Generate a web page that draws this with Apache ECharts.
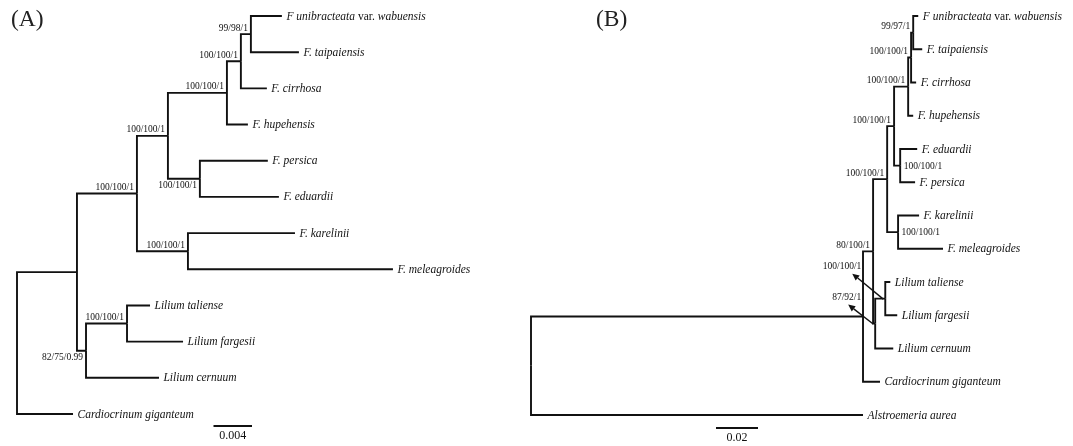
<!DOCTYPE html>
<html>
<head>
<meta charset="utf-8">
<script src="https://cdn.jsdelivr.net/npm/echarts@6/dist/echarts.min.js"></script>
<style>
  html, body { margin: 0; padding: 0; background: #fff; }
  #chart { width: 1073px; height: 446px; }
</style>
</head>
<body>
<div id="chart"></div>
<script>
// ---------- Tree (A): one entry per node, children listed top to bottom ----------
const nodeA = ['rA', 'a1', 'a2', 'a3', 'a4', 'a5', 'a6',
  'F unibracteata var. wabuensis', 'F. taipaiensis', 'F. cirrhosa', 'F. hupehensis',
  'a7', 'F. persica', 'F. eduardii',
  'a8', 'F. karelinii', 'F. meleagroides',
  'a9', 'a10', 'Lilium taliense', 'Lilium fargesii', 'Lilium cernuum',
  'Cardiocrinum giganteum'];
const parentA = [null, 'rA', 'a1', 'a2', 'a3', 'a4', 'a5',
  'a6', 'a6', 'a5', 'a4',
  'a3', 'a7', 'a7',
  'a2', 'a8', 'a8',
  'a1', 'a9', 'a10', 'a10', 'a9',
  'rA'];
const lengthA = [0, 0.00623, 0.00623, 0.00322, 0.00613, 0.00145, 0.00104,
  0.00322, 0.00499, 0.00270, 0.00218,
  0.00332, 0.00706, 0.00821,
  0.00530, 0.01112, 0.02130,
  0.00094, 0.00426, 0.00239, 0.00582, 0.00758,
  0.00582];
const supportA = ['', '', '100/100/1', '100/100/1', '100/100/1', '100/100/1', '99/98/1',
  '', '', '', '',
  '100/100/1', '', '',
  '100/100/1', '', '',
  '82/75/0.99', '100/100/1', '', '', '',
  ''];
const scaleA = 0.004;
const scaleLabelA = '0.004';

// ---------- Tree (B) ----------
const nodeB = ['rB', 'b1', 'b2', 'b3', 'b4', 'b5', 'b6', 'b7',
  'F unibracteata var. wabuensis', 'F. taipaiensis', 'F. cirrhosa', 'F. hupehensis',
  'b8', 'F. eduardii', 'F. persica',
  'b9', 'F. karelinii', 'F. meleagroides',
  'b10', 'b11', 'Lilium taliense', 'Lilium fargesii', 'Lilium cernuum',
  'Cardiocrinum giganteum', 'Alstroemeria aurea'];
const parentB = [null, 'rB', 'b1', 'b2', 'b3', 'b4', 'b5', 'b6',
  'b7', 'b7', 'b6', 'b5',
  'b4', 'b8', 'b8',
  'b3', 'b9', 'b9',
  'b2', 'b10', 'b11', 'b11', 'b10',
  'b1', 'rB'];
const lengthB = [0, 0.1581, 0.0048, 0.0067, 0.0033, 0.0067, 0.0014, 0.0010,
  0.0024, 0.0043, 0.0024, 0.0024,
  0.0029, 0.0081, 0.0071,
  0.0052, 0.0100, 0.0214,
  0.0010, 0.0048, 0.0024, 0.0057, 0.0086,
  0.0081, 0.1581];
const supportB = ['', '', '80/100/1', '100/100/1', '100/100/1', '100/100/1', '100/100/1', '99/97/1',
  '', '', '', '',
  '100/100/1', '', '',
  '100/100/1', '', '',
  '87/92/1', '100/100/1', '', '', '',
  '', ''];
const scaleB = 0.02;
const scaleLabelB = '0.02';

// ---------- placement of support values (layout only) ----------
const sideA = { a7: 'below', a9: 'below' };
const sideB = { b8: 'right', b9: 'right', b10: 'arrow', b11: 'arrow' };
// arrow: [head dx, head dy, label dx, label dy] relative to the node, in px
const arrowB = { b10: [-27, -19, -14, -21], b11: [-33, -25, -24, -27] };

const INK = '#111';
const SERIF = "'Liberation Serif', 'Times New Roman', serif";
const TIP_SIZE = 11.5;
const SUP_SIZE = 9.5;
const LINE_W = 1.9;

// Rectangular layout: x = distance from root, y = leaf rank (internal = mid of children)
function layoutTree(names, parents, lengths) {
  const idx = {};
  names.forEach((n, i) => { idx[n] = i; });
  const kids = names.map(() => []);
  parents.forEach((p, i) => { if (p !== null) kids[idx[p]].push(i); });
  const x = [], y = [];
  let leaf = 0;
  (function walk(i, d) {
    x[i] = d + lengths[i];
    if (!kids[i].length) { y[i] = leaf++; return; }
    kids[i].forEach(k => walk(k, x[i]));
    y[i] = (y[kids[i][0]] + y[kids[i][kids[i].length - 1]]) / 2;
  })(0, 0);
  return { idx, kids, x, y, parents, names };
}

function edgeData(T) {
  const out = [];
  T.names.forEach((n, i) => {
    if (T.parents[i] === null) return;
    const p = T.idx[T.parents[i]];
    out.push([T.x[p], T.y[p], T.x[i], T.y[i], i]);
  });
  return out;
}

function tipText(name) {
  const parts = name.split(' var. ');
  if (parts.length === 2) return '{i|' + parts[0] + '}{n| var. }{i|' + parts[1] + '}';
  return '{i|' + name + '}';
}

const tipRich = {
  i: { fontFamily: SERIF, fontStyle: 'italic', fontSize: TIP_SIZE, fill: INK, color: INK },
  n: { fontFamily: SERIF, fontStyle: 'normal', fontSize: TIP_SIZE, fill: INK, color: INK }
};

function textEl(x, y, str, align, vAlign, size, rich) {
  const style = {
    text: str, x: x, y: y, fill: INK,
    fontFamily: SERIF, fontSize: size,
    align: align, verticalAlign: vAlign,
    textAlign: align, textVerticalAlign: vAlign
  };
  if (rich) style.rich = rich;
  return { type: 'text', style: style };
}

function treeRenderer(T, support, side, arrows) {
  return function (params, api) {
    const i = api.value(4);
    const a = api.coord([api.value(0), api.value(1)]);
    const b = api.coord([api.value(0), api.value(3)]);
    const c = api.coord([api.value(2), api.value(3)]);
    const els = [{
      type: 'polyline',
      shape: { points: [a, b, c] },
      style: { stroke: INK, lineWidth: LINE_W, fill: null, lineJoin: 'miter', lineCap: 'butt' }
    }];
    const name = T.names[i];
    if (!T.kids[i].length) {
      els.push(textEl(c[0] + 4.5, c[1] + 0.5, tipText(name), 'left', 'middle', TIP_SIZE, tipRich));
    } else if (support[i]) {
      const s = side[name] || 'above';
      if (s === 'above') {
        els.push(textEl(c[0] - 3, c[1] - 1, support[i], 'right', 'bottom', SUP_SIZE));
      } else if (s === 'below') {
        els.push(textEl(c[0] - 3, c[1] + 2, support[i], 'right', 'top', SUP_SIZE));
      } else if (s === 'right') {
        els.push(textEl(c[0] + 3.5, c[1] + 0.5, support[i], 'left', 'middle', SUP_SIZE));
      } else if (s === 'arrow') {
        const o = arrows[name];
        const tail = [c[0] - 2, c[1] + 0.5];
        const head = [c[0] + o[0], c[1] + o[1]];
        const dx = head[0] - tail[0], dy = head[1] - tail[1];
        const len = Math.sqrt(dx * dx + dy * dy);
        const ux = dx / len, uy = dy / len;
        const bx = head[0] - ux * 7, by = head[1] - uy * 7;
        els.push({
          type: 'line',
          shape: { x1: tail[0], y1: tail[1], x2: bx, y2: by },
          style: { stroke: INK, lineWidth: 1.4 }
        });
        els.push({
          type: 'polygon',
          shape: { points: [head, [bx - uy * 3.2, by + ux * 3.2], [bx + uy * 3.2, by - ux * 3.2]] },
          style: { fill: INK, stroke: null }
        });
        els.push(textEl(c[0] + o[2], c[1] + o[3], support[i], 'right', 'bottom', SUP_SIZE));
      }
    }
    return { type: 'group', children: els };
  };
}

function scaleRenderer(px, py, label) {
  return function (params, api) {
    const w = api.size([api.value(0), 0])[0];
    return {
      type: 'group',
      children: [
        { type: 'line', shape: { x1: px, y1: py, x2: px + w, y2: py },
          style: { stroke: INK, lineWidth: LINE_W } },
        textEl(px + w / 2, py + 4, label, 'center', 'top', 12)
      ]
    };
  };
}

const TA = layoutTree(nodeA, parentA, lengthA);
const TB = layoutTree(nodeB, parentB, lengthB);

const chart = echarts.init(document.getElementById('chart'), null, { renderer: 'canvas' });
chart.setOption({
  backgroundColor: '#fff',
  animation: false,
  title: [
    { text: '(A)', left: 11, top: 8, padding: 0,
      textStyle: { fontFamily: SERIF, fontSize: 23.5, fontWeight: 'normal', color: '#222' } },
    { text: '(B)', left: 596, top: 8, padding: 0,
      textStyle: { fontFamily: SERIF, fontSize: 23.5, fontWeight: 'normal', color: '#222' } }
  ],
  grid: [
    { left: 17, top: 16, width: 385, height: 398 },
    { left: 531, top: 16, width: 420, height: 399 }
  ],
  xAxis: [
    { type: 'value', gridIndex: 0, min: 0, max: 0.04, show: false },
    { type: 'value', gridIndex: 1, min: 0, max: 0.2, show: false }
  ],
  yAxis: [
    { type: 'value', gridIndex: 0, min: 0, max: 11, inverse: true, show: false },
    { type: 'value', gridIndex: 1, min: 0, max: 12, inverse: true, show: false }
  ],
  series: [
    { type: 'custom', xAxisIndex: 0, yAxisIndex: 0, silent: true,
      encode: { x: [0, 2], y: [1, 3] },
      data: edgeData(TA), renderItem: treeRenderer(TA, supportA, sideA, {}) },
    { type: 'custom', xAxisIndex: 1, yAxisIndex: 1, silent: true,
      encode: { x: [0, 2], y: [1, 3] },
      data: edgeData(TB), renderItem: treeRenderer(TB, supportB, sideB, arrowB) },
    { type: 'custom', xAxisIndex: 0, yAxisIndex: 0, silent: true,
      encode: { x: 0, y: 1 },
      data: [[scaleA, 0]], renderItem: scaleRenderer(213.5, 426, scaleLabelA) },
    { type: 'custom', xAxisIndex: 1, yAxisIndex: 1, silent: true,
      encode: { x: 0, y: 1 },
      data: [[scaleB, 0]], renderItem: scaleRenderer(716, 428, scaleLabelB) }
  ]
});
</script>
</body>
</html>
